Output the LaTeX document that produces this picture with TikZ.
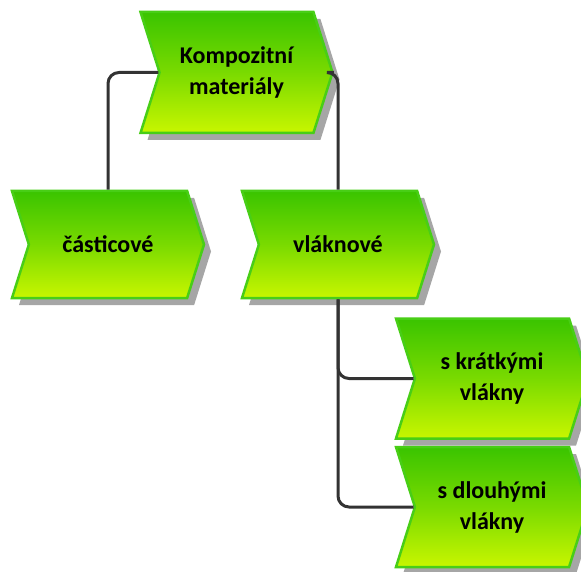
\documentclass[tikz,border=0pt]{standalone}
\usepackage{fontspec}
\setmainfont{Carlito}
\usetikzlibrary{shapes.symbols,shadows,positioning}

\definecolor{fntop}{RGB}{58,196,0}
\definecolor{fnbot}{RGB}{200,246,0}
\definecolor{fnline}{RGB}{72,206,22}
\definecolor{link}{RGB}{51,51,51}

\tikzset{
  function/.style={signal, signal from=west, signal to=east,
    signal pointer angle=145, draw=fnline, line width=2.5pt,
    top color=fntop, bottom color=fnbot, middle color=fntop!55!fnbot,
    minimum width=192pt, inner sep=0pt, align=center,
    font=\fontsize{24}{31}\selectfont\bfseries,
    drop shadow={shadow xshift=7pt, shadow yshift=-7pt, fill=black!35, opacity=1}},
  link/.style={draw=link, line width=3pt, rounded corners=11pt}
}

\begin{document}
\begin{tikzpicture}[x=1pt,y=-1pt]
  \clip (0,0) rectangle (581,572);
  \node[function, minimum height=121pt] (composite) at (236.5,72.5) {Kompozitní\\materiály};
  \node[function, minimum height=107pt] (particle)  at (108,244.5)  {částicové};
  \node[function, minimum height=107pt] (fibre)     at (338,244.5)  {vláknové};
  \node[function, minimum height=120pt] (short)     at (492,378.5)  {s krátkými\\vlákny};
  \node[function, minimum height=120pt] (long)      at (492,507)    {s dlouhými\\vlákny};
  \draw[link] (composite.west) -| (particle.north);
  \draw[link] (composite.east) -| (fibre.north);
  \draw[link] (fibre.south) |- (short.west);
  \draw[link] (fibre.south) |- (long.west);
\end{tikzpicture}
\end{document}
